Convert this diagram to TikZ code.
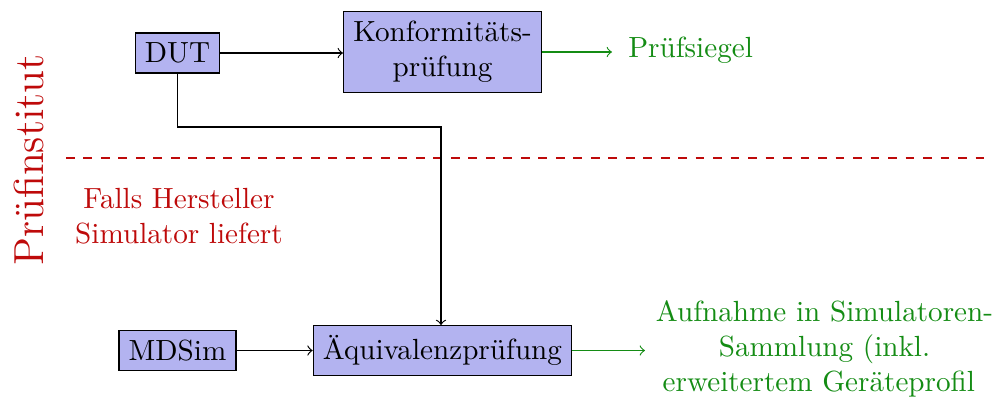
\documentclass[tikz,border=0pt]{standalone}
\definecolor{boxfill}{RGB}{179,179,240}
\definecolor{darkred}{RGB}{190,10,10}
\definecolor{darkgreen}{RGB}{20,140,20}
\begin{document}
\begin{tikzpicture}[x=0.343pt,y=-0.343pt,
  blockbox/.style={draw, fill=boxfill, align=center},
  link/.style={->},
  greenlink/.style={->, darkgreen},
  redtext/.style={text=darkred, align=center},
  greentext/.style={text=darkgreen, align=center}]
\useasboundingbox (0,0) rectangle (993,399);
\node[blockbox] (dut) at (177.5,53) {DUT};
\node[blockbox] (konf) at (442.5,52) {Konformitäts-\\prüfung};
\node[greentext, anchor=west] (siegel) at (618,50) {Prüfsiegel};
\node[blockbox] (mdsim) at (177.5,350.5) {MDSim};
\node[blockbox] (aequi) at (442.5,350.5) {Äquivalenzprüfung};
\node[greentext] (aufn) at (824.5,349) {Aufnahme in Simulatoren-\\Sammlung (inkl.\\erweitertem Geräteprofil\hphantom{)}};
\node[redtext] (falls) at (179,216) {Falls Hersteller\\Simulator liefert};
\node[text=darkred, rotate=90, font=\Large] (inst) at (29,160) {Prüfinstitut};
\coordinate (dl) at (66,158);
\coordinate (dr) at (993,158);
\coordinate (bend) at (441,127);
\coordinate (siegelend) at (612,52);
\coordinate (aufnend) at (645,350.5);
\draw[darkred, semithick, dashed] (dl) -- (dr);
\draw[link] (dut) -- (dut -| konf.west);
\draw[greenlink] (konf.east) -- (siegelend);
\draw[link] (mdsim) -- (aequi);
\draw[greenlink] (aequi.east) -- (aufnend);
\draw[link] (dut.south) |- (bend) -- (bend |- aequi.north);
\end{tikzpicture}
\end{document}
